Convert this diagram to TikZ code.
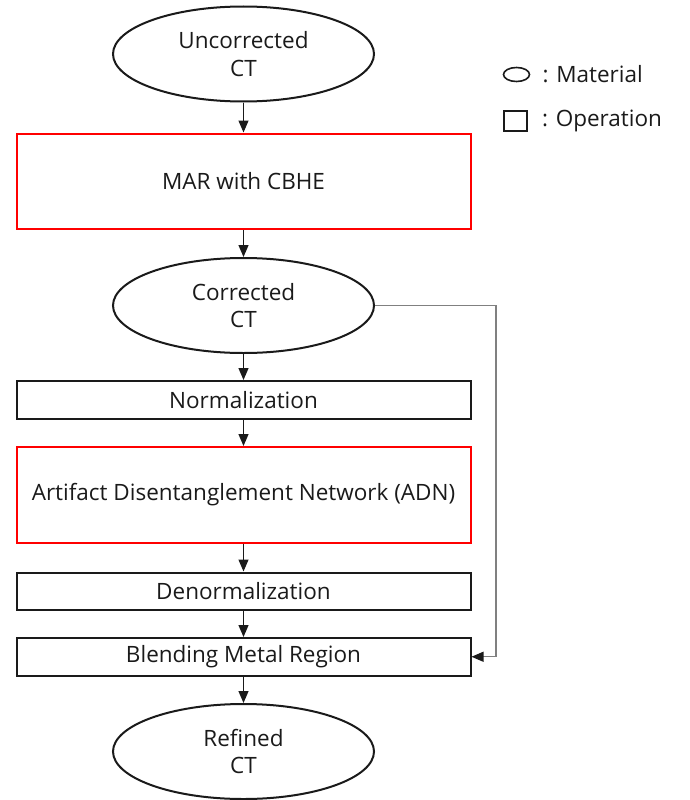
\documentclass[tikz,border=0pt]{standalone}
\usepackage{fontspec}
\setmainfont{Open Sans}
\usetikzlibrary{shapes.geometric,arrows.meta,positioning}
\definecolor{marRed}{RGB}{255,0,0}
\definecolor{marInk}{HTML}{1A1A1A}
\definecolor{marLink}{HTML}{808080}
\tikzset{
    marBase/.style={
        draw=marInk,
        line width=2pt,
        font=\fontsize{22.5}{27.5}\selectfont,
        text=marInk,
        align=center,
        inner sep=0pt
    },
    % Material and operation nodes
    material/.style={marBase, ellipse, minimum width=261pt, minimum height=95pt},
    operation/.style={marBase, rectangle, minimum width=454pt, minimum height=37.5pt},
    keyStep/.style={operation, draw=marRed, minimum height=95.5pt},
    % Legend
    legendTxt/.style={font=\fontsize{22.5}{27.5}\selectfont, text=marInk, inner sep=0pt, anchor=west},
    % Arrows
    marArrow/.style={-{Triangle[width=10pt,length=12pt,color=marInk]}, line width=1.2pt, draw=marInk}
}

\begin{document}
\begin{tikzpicture}[x=1pt, y=-1pt, node distance=26pt]
\useasboundingbox (0,0) rectangle (689,800);

\node[material] (uct) at (243.5,54) {Uncorrected\\CT};
\node[keyStep, below=30pt of uct] (mar) {MAR with CBHE};
\node[material, below=27pt of mar] (cct) {Corrected\\CT};
\node[operation, below=of cct] (norm) {Normalization};
\node[keyStep, below=26.5pt of norm] (adn) {Artifact Disentanglement Network (ADN)};
\node[operation, below=28pt of adn] (denorm) {Denormalization};
\node[operation, below=of denorm] (blend) {Blending Metal Region};
\node[material, below=26.5pt of blend] (rct) {Refined\\CT};

% legend
\node[draw=marInk, ellipse, line width=1.6pt, minimum width=26pt, minimum height=14pt, inner sep=0pt] (keyMat) at (516.5,74.5) {};
\node[legendTxt, right=12pt of keyMat] (keyMatTxt) {: Material};
\node[draw=marInk, rectangle, line width=1.6pt, minimum width=23pt, minimum height=20pt, inner sep=0pt] (keyOp) at (515.5,121) {};
\node[legendTxt, right=14pt of keyOp] (keyOpTxt) {: Operation};

\draw[marArrow] (uct) -- (mar);
\draw[marArrow] (mar) -- (cct);
\draw[marArrow] (cct) -- (norm);
\draw[marArrow] (norm) -- (adn);
\draw[marArrow] (adn) -- (denorm);
\draw[marArrow] (denorm) -- (blend);
\draw[marArrow] (blend) -- (rct);
\draw[marArrow, draw=marLink] (cct.east) -- ++(121,0) |- (blend.east);
\end{tikzpicture}
\end{document}
